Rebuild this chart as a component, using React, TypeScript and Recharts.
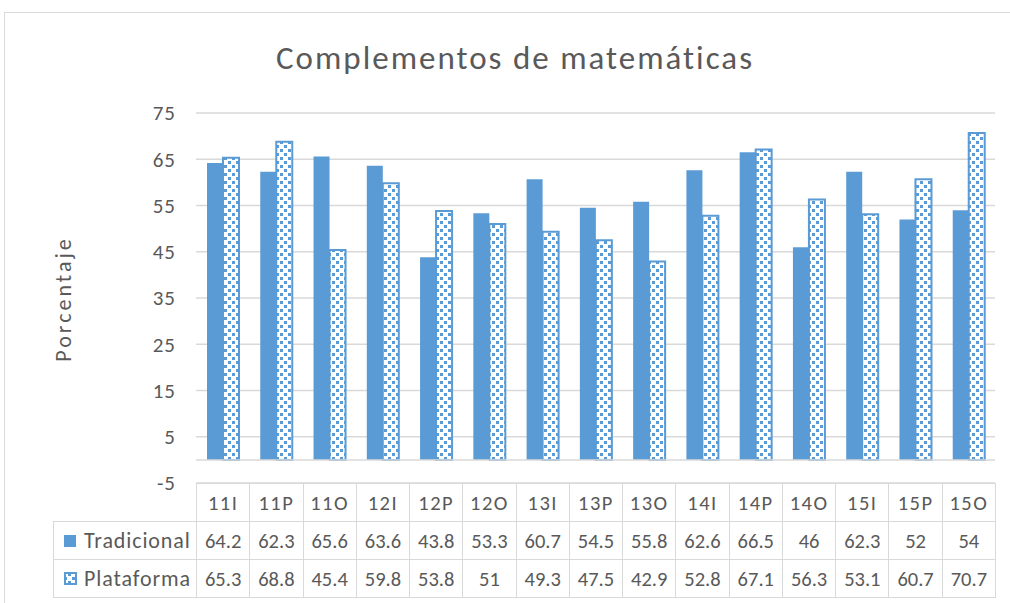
import React from "react";
import { BarChart, Bar, XAxis, YAxis, CartesianGrid, ReferenceLine } from "recharts";

const categories = ["11I", "11P", "11O", "12I", "12P", "12O", "13I", "13P", "13O", "14I", "14P", "14O", "15I", "15P", "15O"];
const tradicional = [64.2, 62.3, 65.6, 63.6, 43.8, 53.3, 60.7, 54.5, 55.8, 62.6, 66.5, 46, 62.3, 52, 54];
const plataforma = [65.3, 68.8, 45.4, 59.8, 53.8, 51, 49.3, 47.5, 42.9, 52.8, 67.1, 56.3, 53.1, 60.7, 70.7];
const yTicks = [-5, 5, 15, 25, 35, 45, 55, 65, 75];

const data = categories.map((c, i) => ({ name: c, tradicional: tradicional[i], plataforma: plataforma[i] }));

const BLUE = "#5b9bd5";
const TEXT = "#595959";
const GRID = "#d9d9d9";
const FONT = "Calibri, Carlito, Lato, 'Noto Sans', sans-serif";

const PLOT_LEFT = 196;
const PLOT_RIGHT = 995;
const COL_W = (PLOT_RIGHT - PLOT_LEFT) / categories.length;

function DotKey() {
  return (
    <svg width={13} height={13} style={{ marginRight: 7, flexShrink: 0 }}>
      <rect x={1} y={1} width={11} height={11} fill="url(#dots)" stroke={BLUE} strokeWidth={2} />
    </svg>
  );
}

function DataTable() {
  const cell: React.CSSProperties = {
    position: "absolute",
    boxSizing: "border-box",
    border: `1.5px solid ${GRID}`,
    display: "flex",
    alignItems: "center",
    justifyContent: "center",
    fontSize: 20.5,
    color: TEXT,
    whiteSpace: "nowrap",
  };
  const rowTops = [483, 521, 559];
  const rowH = 38;
  const rows = [
    { label: "Tradicional", values: tradicional, key: <span style={{ display: "inline-block", width: 12, height: 12, background: BLUE, marginRight: 8, flexShrink: 0 }} /> },
    { label: "Plataforma", values: plataforma, key: <DotKey /> },
  ];
  return (
    <>
      {categories.map((c, i) => (
        <div key={c} style={{ ...cell, left: PLOT_LEFT + i * COL_W, top: rowTops[0], width: COL_W + 1, height: rowH + 1, letterSpacing: 1.5 }}>{c}</div>
      ))}
      {rows.map((r, ri) => (
        <React.Fragment key={r.label}>
          <div style={{ ...cell, left: 53, top: rowTops[ri + 1], width: PLOT_LEFT - 53 + 1, height: rowH + 1, justifyContent: "flex-start", paddingLeft: 10, fontSize: 22, letterSpacing: 0.9 }}>
            {r.key}
            {r.label}
          </div>
          {r.values.map((v, i) => (
            <div key={i} style={{ ...cell, left: PLOT_LEFT + i * COL_W, top: rowTops[ri + 1], width: COL_W + 1, height: rowH + 1 }}>{v}</div>
          ))}
        </React.Fragment>
      ))}
    </>
  );
}

export default function App() {
  return (
    <div style={{ position: "absolute", left: 0, top: 0, width: 1010, height: 603, overflow: "hidden", background: "#fff", fontFamily: FONT }}>
      <svg width={0} height={0} style={{ position: "absolute" }}>
        <defs>
          <pattern id="dots" patternUnits="userSpaceOnUse" width={8} height={8}>
            <rect width={8} height={8} fill="#fff" />
            <rect x={4} y={1} width={3} height={3} fill={BLUE} />
            <rect x={0} y={5} width={3} height={3} fill={BLUE} />
          </pattern>
        </defs>
      </svg>
      <div style={{ position: "absolute", left: 4, top: 12, width: 1020, height: 620, border: `1.5px solid ${GRID}` }} />
      <div style={{ position: "absolute", left: 0, width: 1030, top: 38, textAlign: "center", fontSize: 33, color: TEXT, letterSpacing: 2 }}>
        Complementos de matemáticas
      </div>
      <div style={{ position: "absolute", left: 63, top: 299, transform: "translate(-50%, -50%) rotate(-90deg)", fontSize: 22, color: TEXT, whiteSpace: "nowrap", letterSpacing: 3 }}>
        Porcentaje
      </div>
      <div style={{ position: "absolute", left: 0, top: 0 }}>
        <BarChart width={1010} height={603} data={data} margin={{ top: 113, right: 1010 - PLOT_RIGHT, bottom: 120, left: 136 }} barGap={0} barSize={16}>
          <CartesianGrid horizontal vertical={false} stroke={GRID} strokeWidth={1.5} />
          <XAxis dataKey="name" hide />
          <YAxis
            width={60}
            domain={[-5, 75]}
            ticks={yTicks}
            axisLine={false}
            tickLine={false}
            tickSize={0}
            tickMargin={20}
            tick={{ fill: TEXT, fontSize: 21, fontFamily: FONT, letterSpacing: 1 }}
          />
          <ReferenceLine y={0} stroke={GRID} strokeWidth={1.5} />
          <Bar dataKey="tradicional" fill={BLUE} isAnimationActive={false} />
          <Bar dataKey="plataforma" fill="url(#dots)" stroke={BLUE} strokeWidth={2} isAnimationActive={false} />
        </BarChart>
      </div>
      <DataTable />
    </div>
  );
}
